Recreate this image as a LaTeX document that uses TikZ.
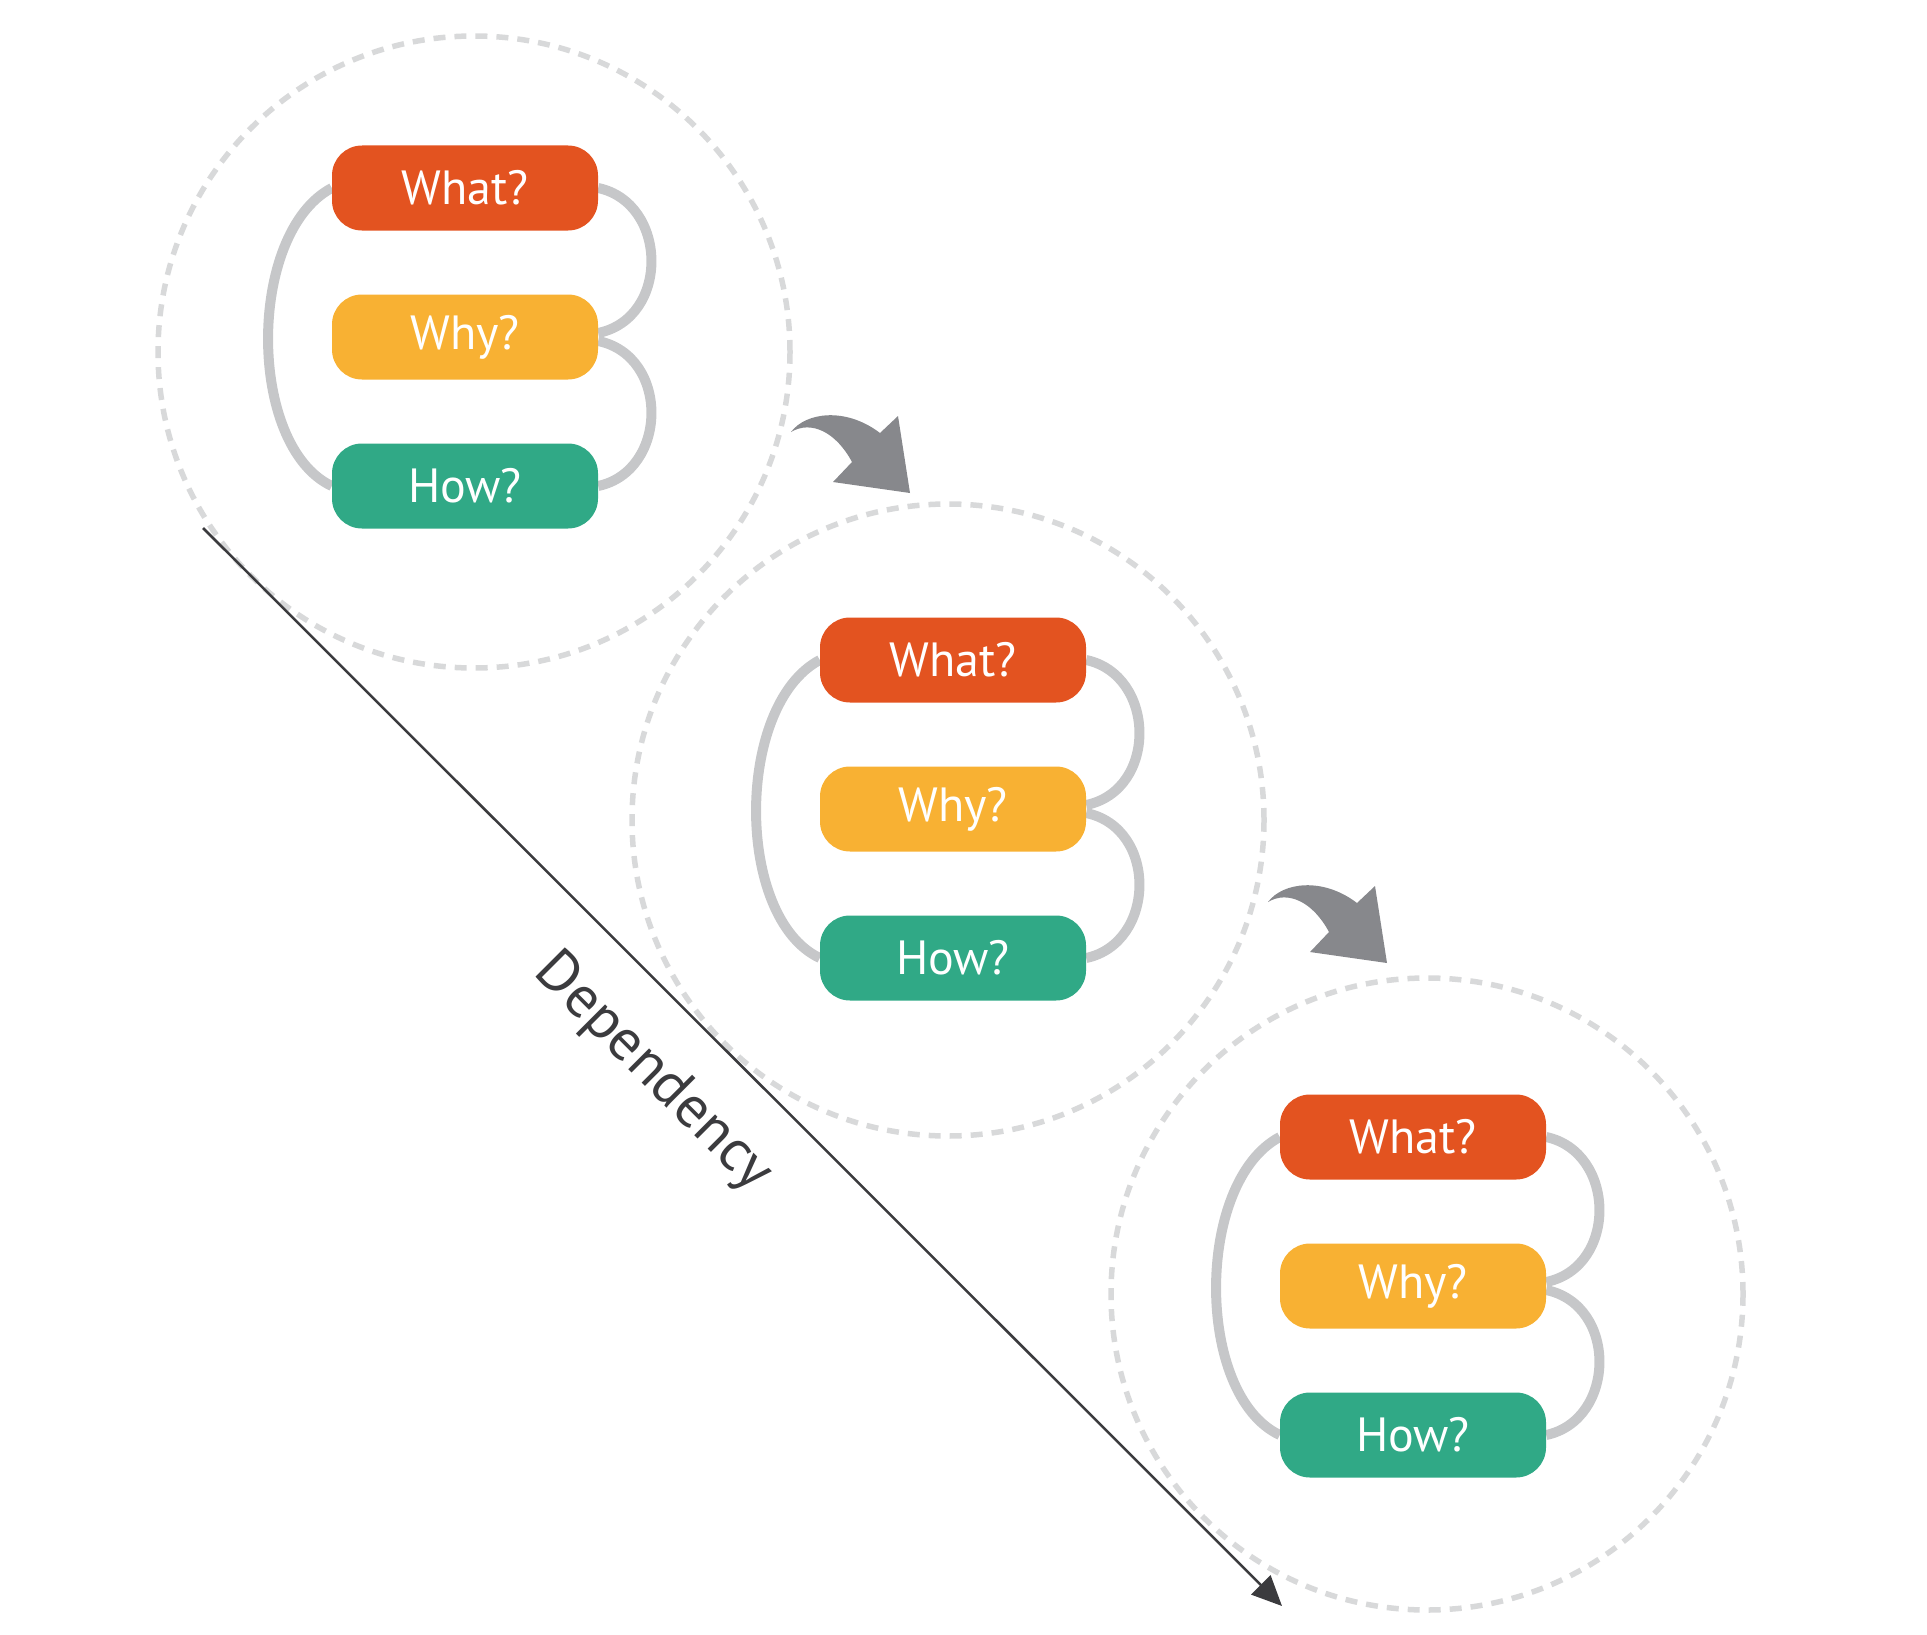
\documentclass[tikz,border=0pt]{standalone}
\usepackage{fontspec}
\setmainfont{PT Sans}
\usepackage{tikz}
\usetikzlibrary{calc, arrows.meta, backgrounds}
\definecolor{whatc}{HTML}{E35320}
\definecolor{whyc}{HTML}{F8B133}
\definecolor{howc}{HTML}{30A986}
\definecolor{linkc}{HTML}{C6C7C9}
\definecolor{ringc}{HTML}{D8D9DA}
\definecolor{nextc}{HTML}{87888C}
\definecolor{depc}{HTML}{3B3B3E}
\tikzstyle{box}=[rounded corners=30pt, minimum width=266pt, minimum height=85pt, text=white, font=\fontsize{48}{52}\selectfont]
\tikzstyle{what}=[box, fill=whatc]
\tikzstyle{why}=[box, fill=whyc]
\tikzstyle{how}=[box, fill=howc]
\tikzstyle{link}=[draw=linkc, line width=10pt]
\tikzstyle{ring}=[draw=ringc, line width=5.5pt, dash pattern=on 12pt off 9pt]
\tikzstyle{nextarrow}=[fill=nextc]
\tikzstyle{dep}=[draw=depc, line width=2.5pt, -{Triangle[length=30pt,width=27pt]}]

\begin{document}
\begin{tikzpicture}[x=1pt, y=-1pt, node distance=149pt]
  \useasboundingbox (0,0) rectangle (1927,1635);
  % first group
  \node [what] (what1) at (465,188) {What?};
  \node [why] (why1) [below of=what1] {Why?};
  \node [how] (how1) [below of=why1] {How?};
  % second group
  \node [what] (what2) at (953,660) {What?};
  \node [why] (why2) [below of=what2] {Why?};
  \node [how] (how2) [below of=why2] {How?};
  % third group
  \node [what] (what3) at (1413,1137) {What?};
  \node [why] (why3) [below of=what3] {Why?};
  \node [how] (how3) [below of=why3] {How?};
  \begin{scope}[on background layer]
    \draw[ring] (474,352) circle [radius=316pt];
    \draw[ring] (948,820) circle [radius=316pt];
    \draw[ring] (1427,1294) circle [radius=316pt];
    \draw[link] (what1.west) .. controls +(-85,45) and +(-85,-40) .. (how1.west);
    \draw[link] (what1.east) .. controls +(70,15) and +(72,-15) .. ($(why1.east)+(0,-4)$);
    \draw[link] ($(why1.east)+(0,4)$) .. controls +(72,15) and +(70,-15) .. (how1.east);
    \draw[link] (what2.west) .. controls +(-85,45) and +(-85,-40) .. (how2.west);
    \draw[link] (what2.east) .. controls +(70,15) and +(72,-15) .. ($(why2.east)+(0,-4)$);
    \draw[link] ($(why2.east)+(0,4)$) .. controls +(72,15) and +(70,-15) .. (how2.east);
    \draw[link] (what3.west) .. controls +(-85,45) and +(-85,-40) .. (how3.west);
    \draw[link] (what3.east) .. controls +(70,15) and +(72,-15) .. ($(why3.east)+(0,-4)$);
    \draw[link] ($(why3.east)+(0,4)$) .. controls +(72,15) and +(70,-15) .. (how3.east);
  \end{scope}
  % dependency axis
  \coordinate (dstart) at (203,528);
  \coordinate (dend) at (1282,1606);
  \draw[dep] (dstart) -- (dend);
  \node [rotate=-45, text=depc, font=\fontsize{59}{64}\selectfont] (deplabel) at (653,1073) {Dependency};
  % arrows between groups
  \coordinate (t1) at (791,432);
  \coordinate (t2) at (1268,902);
  \fill[nextarrow, shift={(t1)}] (0,0) .. controls (15,-20) and (55,-25) .. (89,1) -- (107,-16) -- (119,61) -- (42,50) -- (61,30) .. controls (45,0) and (20,-12) .. cycle;
  \fill[nextarrow, shift={(t2)}] (0,0) .. controls (15,-20) and (55,-25) .. (89,1) -- (107,-16) -- (119,61) -- (42,50) -- (61,30) .. controls (45,0) and (20,-12) .. cycle;
\end{tikzpicture}
\end{document}
